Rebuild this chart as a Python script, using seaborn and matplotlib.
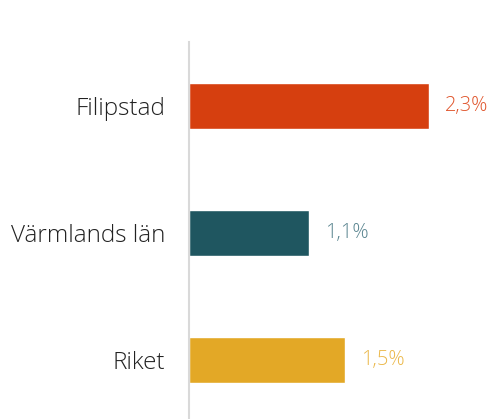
import matplotlib
matplotlib.use("Agg")
import matplotlib.pyplot as plt
import seaborn as sns
import pandas as pd

categories = ["Filipstad", "Värmlands län", "Riket"]
values = [2.3, 1.15, 1.5]
labels = ["2,3%", "1,1%", "1,5%"]
bar_colors = ["#d63f0f", "#1f5660", "#e3a826"]
label_colors = ["#e0552c", "#5a8590", "#ebb84a"]

sns.set_theme(style="white")
plt.rcParams["font.family"] = ["Open Sans", "DejaVu Sans"]

df = pd.DataFrame({"cat": categories, "val": values})

fig = plt.figure(figsize=(4.89, 4.19), dpi=100)
ax = fig.add_axes([189 / 489, 0, 300 / 489, 377 / 419])
sns.barplot(data=df, x="val", y="cat", hue="cat", palette=bar_colors,
            orient="h", width=0.36, ax=ax, legend=False, saturation=1)

ax.set_xlim(0, 300 / 104.3)
ax.set_ylim(2.465, -0.504)
ax.set_xlabel("")
ax.set_ylabel("")
ax.set_xticks([])
for s in ["top", "right", "bottom"]:
    ax.spines[s].set_visible(False)
ax.spines["left"].set_color("#d9d9d9")
ax.spines["left"].set_linewidth(1.5)
ax.tick_params(axis="y", length=0, pad=17, labelsize=17.5, labelcolor="#222222")
for t in ax.get_yticklabels():
    t.set_fontweight("light")

for i, (v, lab, c) in enumerate(zip(values, labels, label_colors)):
    ax.annotate(lab, xy=(v, i), xytext=(11.5, 0), textcoords="offset points",
                ha="left", va="center", fontsize=14.5, color=c, fontweight="light")

fig.savefig("out.png", dpi=100)
